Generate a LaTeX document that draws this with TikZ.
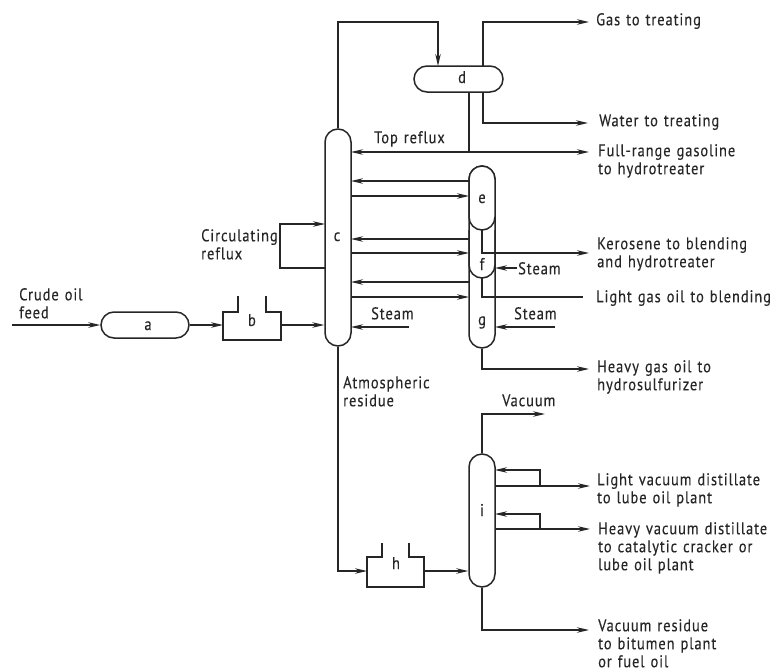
\documentclass[tikz,border=0pt]{standalone}
\usepackage{fontspec}
\setmainfont[LetterSpace=5.5,WordSpace=1.25,Ligatures=NoCommon,FakeStretch=0.85,FakeBold=0.25]{PT Sans}
\usetikzlibrary{arrows.meta}
\tikzset{
  x=1pt,y=-1pt,
  unit/.style={draw=black!85,line width=1.5pt,fill=white,rounded corners=13pt,inner sep=0pt},
  vessel/.style={draw=black!85,line width=1.5pt},
  pipe/.style={draw=black!85,line width=1.4pt},
  flow/.style={pipe,-{Stealth[length=12pt,width=5.5pt]}},
  lab/.style={inner sep=0pt,font=\fontsize{17}{18}\selectfont,align=left,anchor=north west,text=black!85,
    execute at begin node={\rule{0pt}{12pt}}},
  tag/.style={inner sep=0pt,font=\fontsize{17}{18}\selectfont,anchor=base,text=black!85},
}
\begin{document}
\begin{tikzpicture}
\useasboundingbox (0,0) rectangle (775,669);
% free end coordinates
\coordinate (crudeS) at (12,325);
\coordinate (gasE) at (589,22);
\coordinate (waterE) at (588,123);
\coordinate (gasolineE) at (589,152);
\coordinate (keroE) at (589,253);
\coordinate (lgoE) at (583,297);
\coordinate (hgoE) at (589,369);
\coordinate (steamC) at (409,327);
\coordinate (steamF) at (517,268);
\coordinate (steamG) at (555,327);
\coordinate (vacE) at (545,414);
\coordinate (lvdE) at (590,486);
\coordinate (hvdE) at (590,529);
\coordinate (vrE) at (589,630);
% vessels
\node[unit,minimum width=88pt,minimum height=26pt] (a) at (145,325) {};
\node[unit,minimum width=89pt,minimum height=26pt] (d) at (458.5,79) {};
\node[unit,minimum width=26pt,minimum height=217pt] (c) at (338,237.5) {};
\node[unit,minimum width=26pt,minimum height=133pt] (i) at (482,520.5) {};
% column efg
\node[unit,minimum width=26pt,minimum height=182pt] (g) at (482,257) {};
\node[unit,minimum width=26pt,minimum height=64pt] (e) at (482,198) {};
\path[vessel] (469,230) -- (469,265) arc[start angle=180,end angle=360,radius=13pt] -- (495,230);
% heaters
\draw[vessel] (238,296) -- (238,312) -- (223,312) -- (223,340) -- (281,340) -- (281,312) -- (266,312) -- (266,296);
\draw[vessel] (382,543) -- (382,557) -- (367,557) -- (367,587) -- (424,587) -- (424,557) -- (409,557) -- (409,543);
\coordinate (bL) at (223,325); \coordinate (bR) at (281,325);
\coordinate (hL) at (367,571); \coordinate (hR) at (424,571);
% connectors
\draw[flow] (crudeS) -- (a.west);
\draw[flow] (a.east) -- (bL);
\draw[flow] (bR) -- (c.west |- bR);
\draw[flow] (c.north) -- (338,22) -- (438,22) -- (438,66);
\draw[flow] (483,66) -- (483,22) -- (gasE);
\draw[flow] (483,92) -- (483,123) -- (waterE);
\draw[pipe] (469,92) -- (469,152);
\draw[flow] (469,152) -- (351,152);
\draw[flow] (469,152) -- (gasolineE);
\draw[flow] (469,181) -- (351,181);
\draw[flow] (351,196) -- (469,196);
\draw[flow] (469,239) -- (351,239);
\draw[flow] (351,253) -- (469,253);
\draw[flow] (469,282) -- (351,282);
\draw[flow] (351,297) -- (469,297);
\draw[flow] (steamC) -- (351,327);
\draw[flow] (steamG) -- (495,327);
\draw[flow] (steamF) -- (495,268);
\draw[flow] (325,268) -- (280,268) -- (280,224) -- (325,224);
\draw[flow] (482,230) -- (482,253) -- (keroE);
\draw[pipe] (482,278) -- (482,297) -- (lgoE);
\draw[flow] (g.south) -- (482,369) -- (hgoE);
\draw[flow] (c.south) -- (338,571) -- (hL);
\draw[flow] (hR) -- (i.west |- hR);
\draw[flow] (i.north) -- (482,414) -- (vacE);
\draw[flow] (495,486) -- (lvdE);
\draw[flow] (540,486) -- (540,470) -- (495,470);
\draw[flow] (495,529) -- (hvdE);
\draw[flow] (540,529) -- (540,514) -- (495,514);
\draw[flow] (i.south) -- (482,630) -- (vrE);
% tags
\node[tag] (ta) at (148,330) {a};
\node[tag] (tb) at (252,326) {b};
\node[tag] (tc) at (337,241) {c};
\node[tag] (td) at (462,83) {d};
\node[tag] (te) at (482,203) {e};
\node[tag] (tf) at (482,270) {f};
\node[tag] (tg) at (482,325) {g};
\node[tag] (th) at (396,569) {h};
\node[tag] (ti) at (482,516) {i};
% labels (y = first baseline - 12)
\node[lab] (l1) at (19,288) {Crude oil\\feed};
\node[lab] (l2) at (201,229) {Circulating\\reflux};
\node[lab] (l3) at (374,131) {Top reflux};
\node[lab] (l6) at (343,376) {Atmospheric\\residue};
\node[lab] (l7) at (371,307) {Steam};
\node[lab] (l8) at (518,262) {Steam};
\node[lab] (l9) at (514,307) {Steam};
\node[lab] (l10) at (502,394) {Vacuum};
\node[lab] (l11) at (596,13) {Gas to treating};
\node[lab] (l12) at (599,114) {Water to treating};
\node[lab] (l13) at (598,144) {Full-range gasoline\\to hydrotreater};
\node[lab] (l14) at (597,237) {Kerosene to blending\\and hydrotreater};
\node[lab] (l15) at (596,290) {Light gas oil to blending};
\node[lab] (l16) at (597,360) {Heavy gas oil to\\hydrosulfurizer};
\node[lab] (l17) at (597,473) {Light vacuum distillate\\to lube oil plant};
\node[lab] (l18) at (598,522) {Heavy vacuum distillate\\to catalytic cracker or\\lube oil plant};
\node[lab] (l19) at (598,619) {Vacuum residue\\to bitumen plant\\or fuel oil};
\end{tikzpicture}
\end{document}
